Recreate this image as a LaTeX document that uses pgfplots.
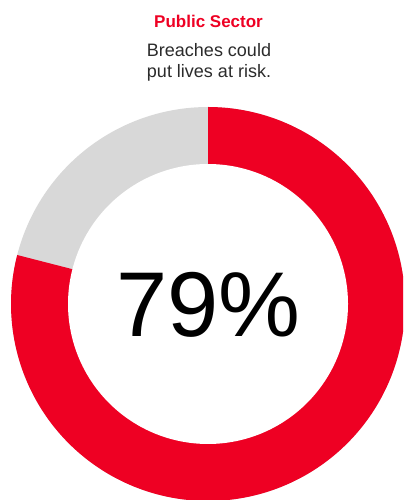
\documentclass[border=0pt]{standalone}
\usepackage{pgfplots}
\pgfplotsset{compat=1.18}
\usepackage{fontspec}
\setmainfont{Liberation Sans}
\definecolor{vzred}{HTML}{EE0023}
\definecolor{ringgray}{HTML}{D8D8D8}
\definecolor{txtgray}{HTML}{2B2B2B}
% share of the sector (percent)
\def\share{79}
\begin{document}
\begin{tikzpicture}
\begin{axis}[
  width=403bp, height=500bp, scale only axis,
  xmin=0, xmax=403, ymin=0, ymax=500,
  hide axis, clip=true,
]
% grey remainder (full disc first)
\addplot[fill=ringgray, draw=none, domain=0:360, samples=240]
  ({208+197*cos(x)}, {196+197*sin(x)}) -- cycle;
% red share, clockwise from 12 o'clock
\addplot[fill=vzred, draw=none, domain=90:{90-3.6*\share}, samples=240]
  ({208+197*cos(x)}, {196+197*sin(x)}) -- (axis cs:208,196) -- cycle;
% hole
\addplot[fill=white, draw=none, domain=0:360, samples=240]
  ({208+140*cos(x)}, {196+140*sin(x)}) -- cycle;
\node[anchor=base, text=vzred, font=\fontsize{17bp}{20bp}\selectfont\bfseries, inner sep=0pt]
  at (axis cs:208.5,472) {Public Sector};
\node[anchor=base, text=txtgray, font=\fontsize{18bp}{21bp}\selectfont, inner sep=0pt]
  at (axis cs:209,443) {Breaches could};
\node[anchor=base, text=txtgray, font=\fontsize{18bp}{21bp}\selectfont, inner sep=0pt]
  at (axis cs:209,422) {put lives at risk.};
\node[anchor=base, text=black, font=\fontsize{92bp}{100bp}\selectfont, inner sep=0pt]
  at (axis cs:208.5,163) {\share\%};
\end{axis}
\path (current axis.south west) rectangle (current axis.north east);
\end{tikzpicture}
\end{document}
